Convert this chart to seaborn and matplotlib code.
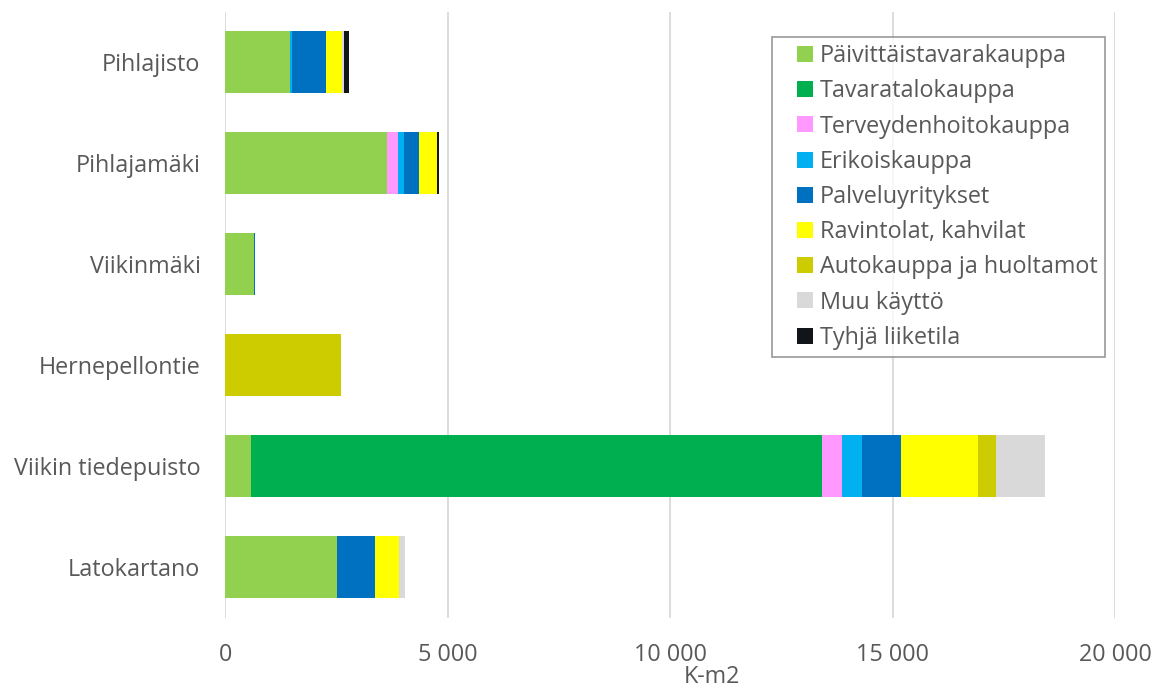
import matplotlib
matplotlib.use("Agg")
import matplotlib.pyplot as plt
from matplotlib.lines import Line2D
from matplotlib.ticker import FuncFormatter
import numpy as np
import pandas as pd
import seaborn as sns

# Areas (K-m2) by business type in each district
areas = ["Pihlajisto", "Pihlajamäki", "Viikinmäki", "Hernepellontie",
         "Viikin tiedepuisto", "Latokartano"]

paivittaistavara = [1455, 3630, 635, 0, 570, 2505]
tavaratalo = [0, 0, 0, 0, 12840, 0]
terveydenhoito = [0, 255, 0, 0, 445, 0]
erikois = [50, 120, 0, 0, 450, 0]
palvelu = [760, 350, 30, 0, 885, 855]
ravintolat = [345, 405, 0, 0, 1725, 540]
autokauppa = [0, 0, 0, 2590, 405, 0]
muu_kaytto = [60, 0, 0, 0, 1085, 130]
tyhja = [110, 30, 0, 0, 0, 0]

series_names = ["Päivittäistavarakauppa", "Tavaratalokauppa", "Terveydenhoitokauppa",
                "Erikoiskauppa", "Palveluyritykset", "Ravintolat, kahvilat",
                "Autokauppa ja huoltamot", "Muu käyttö", "Tyhjä liiketila"]
series_values = [paivittaistavara, tavaratalo, terveydenhoito, erikois, palvelu,
                 ravintolat, autokauppa, muu_kaytto, tyhja]
colors = ["#92D050", "#00B050", "#FF99FF", "#00B0F0", "#0070C0",
          "#FFFF00", "#CCCC00", "#D9D9D9", "#111418"]

x_ticks = [0, 5000, 10000, 15000, 20000]

sns.set_theme(style="white")
plt.rcParams["font.family"] = ["Open Sans", "DejaVu Sans"]
text_color = "#595959"
fs = 16.8

fig = plt.figure(figsize=(11.61, 6.91), dpi=100)
ax = fig.add_axes([0.1942, 0.106, 0.7666, 0.877])

# Stacked horizontal bars: draw running totals from the outermost segment inward
cumulative = np.cumsum(np.array(series_values, dtype=float), axis=0)
for i in range(len(series_names) - 1, -1, -1):
    df = pd.DataFrame({"area": areas, "value": cumulative[i]})
    sns.barplot(data=df, x="value", y="area", orient="h", color=colors[i],
                saturation=1, width=0.61, linewidth=0, ax=ax, zorder=3)

ax.set_xlim(0, 20000)
ax.set_xticks(x_ticks)
ax.xaxis.set_major_formatter(FuncFormatter(lambda v, p: f"{int(v):,}".replace(",", " ")))
ax.grid(axis="x", color="#D9D9D9", linewidth=1.3, zorder=0)
ax.grid(axis="y", visible=False)
for s in ax.spines.values():
    s.set_visible(False)

ax.tick_params(axis="x", length=0, pad=18, labelsize=fs, labelcolor=text_color)
ax.tick_params(axis="y", length=0, pad=18, labelsize=fs, labelcolor=text_color)
ax.set_ylabel("")
ax.set_xlabel("K-m2", fontsize=fs, color=text_color)
ax.xaxis.label.set_va("center")
ax.xaxis.set_label_coords(0.547, -0.098)

handles = [Line2D([], [], linestyle="none", marker="s", markersize=11,
                  markerfacecolor=c, markeredgewidth=0) for c in colors]
leg = ax.legend(handles, series_names, loc="upper left",
                bbox_to_anchor=((772 - 225.5) / 890, 1 - (37 - 11.5) / 606),
                fontsize=fs, frameon=True, fancybox=False, handlelength=2.2,
                handletextpad=-0.45, labelspacing=0.48,
                borderpad=0.3, borderaxespad=0)
leg.get_frame().set_edgecolor("#7F7F7F")
leg.get_frame().set_linewidth(1.2)
for t in leg.get_texts():
    t.set_color(text_color)

fig.savefig("out.png", dpi=100, facecolor="white")
